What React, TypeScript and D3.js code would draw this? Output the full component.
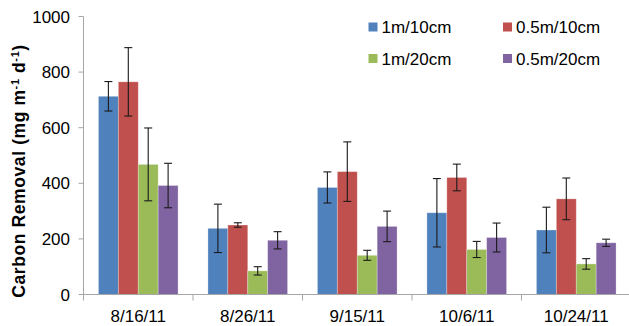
import React from "react";
import * as d3 from "d3";

const dates = ["8/16/11", "8/26/11", "9/15/11", "10/6/11", "10/24/11"];
const seriesNames = ["1m/10cm", "0.5m/10cm", "1m/20cm", "0.5m/20cm"];
const colors = ["#4F81BD", "#C0504D", "#9BBB59", "#8064A2"];

// mean values per series, one entry per date
const m1cm10 = [713, 238, 385, 294, 232];
const m05cm10 = [765, 250, 442, 421, 344];
const m1cm20 = [468, 85, 141, 162, 110];
const m05cm20 = [392, 195, 245, 205, 186];

// error (± half-range) per series
const e1cm10 = [53, 87, 56, 123, 82];
const e05cm10 = [123, 8, 107, 48, 75];
const e1cm20 = [131, 15, 18, 29, 19];
const e05cm20 = [80, 31, 55, 52, 13];

const yTicks = [0, 200, 400, 600, 800, 1000];

const means = [m1cm10, m05cm10, m1cm20, m05cm20];
const errors = [e1cm10, e05cm10, e1cm20, e05cm20];

const W = 629;
const H = 326;
const FONT = "'Liberation Sans', Arial, sans-serif";

export default function App() {
  const left = 83.5;
  const catW = 109.5;
  const x = d3
    .scaleBand<string>()
    .domain(dates)
    .range([left, left + catW * dates.length])
    .paddingInner(0)
    .paddingOuter(0);
  const y = d3.scaleLinear().domain([0, 1000]).range([294.5, 16.5]);
  const barW = catW / (seriesNames.length + 1.5);
  const groupOff = (catW - barW * seriesNames.length) / 2;
  const axisColor = "#a6a6a6";

  return (
    <div style={{ position: "absolute", left: 0, top: 0 }}>
      <svg width={W} height={H} style={{ display: "block", background: "#fff" }}>
        {/* bars */}
        {dates.map((d, i) =>
          seriesNames.map((s, j) => {
            const bx = (x(d) as number) + groupOff + j * barW;
            const v = means[j][i];
            return (
              <rect
                key={`${d}-${s}`}
                x={bx}
                y={y(v)}
                width={barW}
                height={y(0) - y(v)}
                fill={colors[j]}
                stroke="rgba(255,255,255,0.35)"
                strokeWidth={0.8}
              />
            );
          })
        )}
        {/* error bars */}
        {dates.map((d, i) =>
          seriesNames.map((s, j) => {
            const cx = (x(d) as number) + groupOff + j * barW + barW / 2;
            const v = means[j][i];
            const e = errors[j][i];
            const y1 = y(v + e);
            const y2 = y(v - e);
            return (
              <g key={`err-${d}-${s}`} stroke="#1a1a1a" strokeWidth={1.1}>
                <line x1={cx} x2={cx} y1={y1} y2={y2} />
                <line x1={cx - 4} x2={cx + 4} y1={y1} y2={y1} />
                <line x1={cx - 4} x2={cx + 4} y1={y2} y2={y2} />
              </g>
            );
          })
        )}
        {/* y axis */}
        <line x1={left} x2={left} y1={y(1000)} y2={y(0)} stroke={axisColor} />
        {yTicks.map((t) => (
          <g key={`yt-${t}`}>
            <line x1={left - 5} x2={left} y1={y(t)} y2={y(t)} stroke={axisColor} />
            <text
              x={70}
              y={y(t)}
              dy="0.36em"
              textAnchor="end"
              fontFamily={FONT}
              fontSize={17}
              fill="#000"
            >
              {t}
            </text>
          </g>
        ))}
        {/* x axis */}
        <line x1={left} x2={left + catW * dates.length} y1={y(0)} y2={y(0)} stroke={axisColor} />
        {dates.map((d, i) => (
          <g key={`xt-${d}`}>
            <line
              x1={(x(d) as number)}
              x2={(x(d) as number)}
              y1={y(0)}
              y2={y(0) + 6}
              stroke={axisColor}
            />
            {i === dates.length - 1 && (
              <line
                x1={(x(d) as number) + catW}
                x2={(x(d) as number) + catW}
                y1={y(0)}
                y2={y(0) + 6}
                stroke={axisColor}
              />
            )}
            <text
              x={(x(d) as number) + catW / 2}
              y={321.5}
              textAnchor="middle"
              fontFamily={FONT}
              fontSize={17}
              fill="#000"
            >
              {d}
            </text>
          </g>
        ))}
        {/* y axis title */}
        <text
          transform={`translate(24.5, 171) rotate(-90)`}
          textAnchor="middle"
          fontFamily={FONT}
          fontSize={17.5}
          fontWeight="bold"
          letterSpacing={0.6}
          fill="#000"
        >
          Carbon Removal (mg m
          <tspan dy={-6} fontSize={11}>-1</tspan>
          <tspan dy={6}> d</tspan>
          <tspan dy={-6} fontSize={11}>-1</tspan>
          <tspan dy={6}>)</tspan>
        </text>
        {/* legend */}
        {seriesNames.map((s, j) => {
          const lx = j % 2 === 0 ? 368.5 : 503;
          const ly = j < 2 ? 27 : 58.5;
          return (
            <g key={`lg-${s}`}>
              <rect x={lx} y={ly - 4.5} width={9} height={9} fill={colors[j]} />
              <text
                x={lx + 13}
                y={ly}
                dy="0.36em"
                fontFamily={FONT}
                fontSize={17}
                fill="#000"
              >
                {s}
              </text>
            </g>
          );
        })}
      </svg>
    </div>
  );
}
